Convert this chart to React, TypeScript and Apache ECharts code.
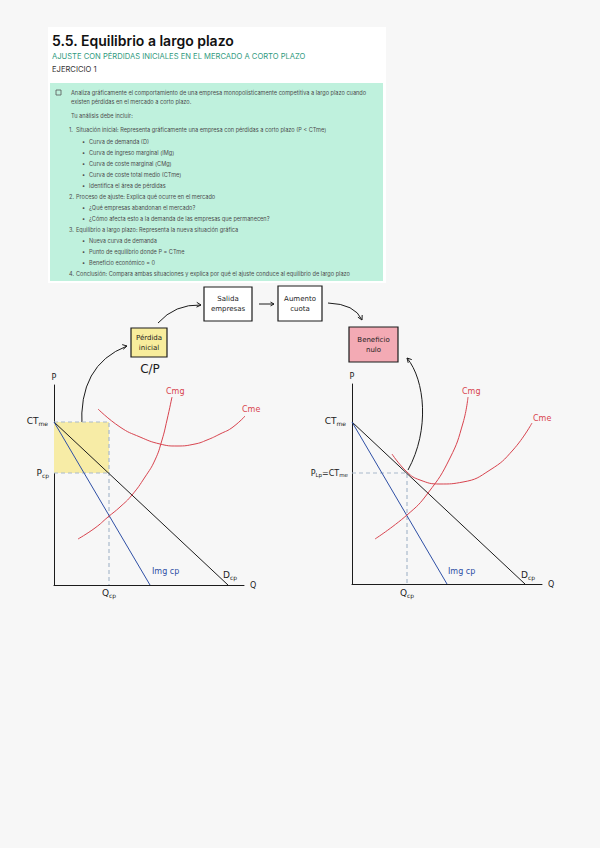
import React, { useEffect, useRef } from "react";
import * as echarts from "echarts";

// ---------- DATA ----------
const titleText = "5.5. Equilibrio a largo plazo";
const subtitleText = "AJUSTE CON PÉRDIDAS INICIALES EN EL MERCADO A CORTO PLAZO";
const exerciseText = "EJERCICIO 1";

// kind: p = paragraph, n = numbered, b = bullet
const boxLines: [string, string, string][] = [
  ["p", "", "Analiza gráficamente el comportamiento de una empresa monopolísticamente competitiva a largo plazo cuando"],
  ["p", "", "existen pérdidas en el mercado a corto plazo."],
  ["p", "", "Tu análisis debe incluir:"],
  ["n", "1.", "Situación inicial: Representa gráficamente una empresa con pérdidas a corto plazo (P < CTme)"],
  ["b", "•", "Curva de demanda (D)"],
  ["b", "•", "Curva de ingreso marginal (IMg)"],
  ["b", "•", "Curva de coste marginal (CMg)"],
  ["b", "•", "Curva de coste total medio (CTme)"],
  ["b", "•", "Identifica el área de pérdidas"],
  ["n", "2.", "Proceso de ajuste: Explica qué ocurre en el mercado"],
  ["b", "•", "¿Qué empresas abandonan el mercado?"],
  ["b", "•", "¿Cómo afecta esto a la demanda de las empresas que permanecen?"],
  ["n", "3.", "Equilibrio a largo plazo: Representa la nueva situación gráfica"],
  ["b", "•", "Nueva curva de demanda"],
  ["b", "•", "Punto de equilibrio donde P = CTme"],
  ["b", "•", "Beneficio económico = 0"],
  ["n", "4.", "Conclusión: Compara ambas situaciones y explica por qué el ajuste conduce al equilibrio de largo plazo"],
];
const boxLineY = [93, 102, 116, 130, 142, 153, 164, 175, 186, 197, 208, 219, 230, 241, 252, 263, 274];

const flowBoxes = ["Salida\nempresas", "Aumento\ncuota", "Pérdida\ninicial", "Beneficio\nnulo"];

// Left diagram (short run with losses)
const leftDemand = [[0, 8.15], [8.7, 0]];
const leftIMg = [[0, 8.15], [4.8, 0]];
const leftCMg = [[1.2, 2.3], [2.05, 2.85], [2.7, 3.4], [3.3, 3.9], [3.9, 4.5], [4.55, 5.4], [5.05, 6.25], [5.4, 7.25], [5.65, 8.25], [5.9, 9.4]];
const leftCTme = [[2.2, 8.8], [3.3, 7.9], [4.3, 7.4], [5.3, 7.05], [6.15, 6.95], [7.05, 7.05], [7.65, 7.25], [8.3, 7.55], [8.95, 7.9], [9.7, 8.6]];
const leftCTmeLevel = 8.15;
const leftPcp = 5.6;
const leftQcp = 2.75;

// Right diagram (long run, zero profit)
const rightDemand = [[0, 8.1], [8.65, 0]];
const rightIMg = [[0, 8.1], [4.75, 0]];
const rightCMg = [[1.15, 2.25], [2.75, 3.45], [3.8, 4.55], [4.9, 6.3], [5.55, 8.05], [5.8, 9.35]];
const rightCTme = [[2.0, 6.5], [2.75, 5.6], [3.4, 5.2], [4.4, 5.0], [5.55, 5.1], [6.9, 5.7], [8.05, 6.7], [9.0, 8.05]];
const rightPLp = 5.55;
const rightQLp = 2.75;

// ---------- STYLE ----------
const RED = "#d8434e";
const BLUE = "#2e4fa5";
const DASH = "#a9b9cc";
const INK = "#1c1c1c";
const HAND = "'DejaVu Sans', sans-serif";

function arrowHead(tx: number, ty: number, fx: number, fy: number, size = 5) {
  const a = Math.atan2(ty - fy, tx - fx);
  const p1 = [tx - size * Math.cos(a - 0.5), ty - size * Math.sin(a - 0.5)];
  const p2 = [tx - size * Math.cos(a + 0.5), ty - size * Math.sin(a + 0.5)];
  return {
    type: "polyline",
    shape: { points: [p1, [tx, ty], p2] },
    style: { stroke: INK, lineWidth: 1, fill: "none" },
  };
}

function sub(main: string, s: string, x: number, y: number, align: string, color = INK) {
  return {
    type: "text",
    x,
    y,
    style: {
      text: `{a|${main}}{b|${s}}`,
      textAlign: align,
      textVerticalAlign: "middle",
      rich: {
        a: { fontSize: 9, fontFamily: HAND, fill: color, color },
        b: { fontSize: 6, fontFamily: HAND, fill: color, color, padding: [4, 0, 0, 0] },
      },
    },
  };
}

function handText(text: string, x: number, y: number, color = INK, size = 8, align = "left") {
  return {
    type: "text",
    x,
    y,
    style: { text, fill: color, fontSize: size, fontFamily: HAND, textAlign: align, textVerticalAlign: "middle" },
  };
}

function boxRect(x: number, y: number, w: number, h: number, fill: string, label: string) {
  return [
    { type: "rect", shape: { x, y, width: w, height: h }, style: { fill, stroke: INK, lineWidth: 1.2 } },
    {
      type: "text",
      x: x + w / 2,
      y: y + h / 2,
      style: { text: label, fill: INK, fontSize: 7, lineHeight: 10, fontFamily: HAND, textAlign: "center", textVerticalAlign: "middle" },
    },
  ];
}

export default function App() {
  const ref = useRef<HTMLDivElement>(null);
  useEffect(() => {
    if (!ref.current) return;
    const chart = echarts.init(ref.current, undefined, { renderer: "svg" });

    const axisCommon = {
      type: "value",
      min: 0,
      axisTick: { show: false },
      axisLabel: { show: false },
      splitLine: { show: false },
      axisLine: { show: true, lineStyle: { color: INK, width: 1 } },
      nameTextStyle: { color: INK, fontSize: 8, fontFamily: HAND },
    };

    const lineS = (data: number[][], xi: number, color: string, smooth = false, extra: any = {}) => ({
      type: "line",
      data,
      xAxisIndex: xi,
      yAxisIndex: xi,
      showSymbol: false,
      symbol: "none",
      smooth,
      clip: false,
      silent: true,
      lineStyle: { color, width: 1 },
      z: 3,
      ...extra,
    });

    const dashed = { lineStyle: { color: DASH, width: 1.2, type: [4, 3] }, z: 2 };

    // graphic: header + task box
    const graphic: any[] = [
      { type: "rect", shape: { x: 48, y: 27, width: 338, height: 256 }, style: { fill: "#ffffff" }, z: -10 },
      { type: "text", x: 52, y: 40, style: { text: titleText, fill: "#111", fontSize: 14, fontWeight: 600, fontFamily: "Inter", textVerticalAlign: "middle" } },
      { type: "text", x: 52, y: 56, style: { text: subtitleText, fill: "#2f9a7e", fontSize: 7.6, fontFamily: "Inter", textVerticalAlign: "middle" } },
      { type: "text", x: 52, y: 69, style: { text: exerciseText, fill: "#333", fontSize: 7.6, fontFamily: "Inter", textVerticalAlign: "middle" } },
      { type: "rect", shape: { x: 50, y: 83, width: 333, height: 198 }, style: { fill: "#bff1dd" } },
      { type: "rect", shape: { x: 56, y: 90, width: 5, height: 5 }, style: { fill: "none", stroke: "#555", lineWidth: 0.8 } },
    ];
    boxLines.forEach(([kind, mark, text], i) => {
      const y = boxLineY[i];
      const st = { fill: "#4d4d4d", fontSize: 5.6, fontFamily: "Inter", textVerticalAlign: "middle" };
      if (kind === "p") {
        graphic.push({ type: "text", x: 71, y, style: { ...st, text } });
      } else if (kind === "n") {
        graphic.push({ type: "text", x: 69, y, style: { ...st, text: mark } });
        graphic.push({ type: "text", x: 76, y, style: { ...st, text } });
      } else {
        graphic.push({ type: "text", x: 82, y, style: { ...st, text: mark } });
        graphic.push({ type: "text", x: 89, y, style: { ...st, text } });
      }
    });

    // flow boxes
    graphic.push(...boxRect(204, 287, 48, 34, "#ffffff", flowBoxes[0]));
    graphic.push(...boxRect(278, 286, 44, 35, "#ffffff", flowBoxes[1]));
    graphic.push(...boxRect(131, 328, 36, 29, "#f8ed9c", flowBoxes[2]));
    graphic.push(...boxRect(349, 327, 49, 35, "#f3aab4", flowBoxes[3]));
    graphic.push(handText("C/P", 150, 369, INK, 12, "center"));

    // arrows
    const curve = (x1: number, y1: number, cx: number, cy: number, x2: number, y2: number) => ({
      type: "bezierCurve",
      shape: { x1, y1, cpx1: cx, cpy1: cy, x2, y2 },
      style: { stroke: INK, lineWidth: 1, fill: "none" },
    });
    graphic.push(curve(82, 428, 78, 365, 127, 346), arrowHead(127, 346, 100, 352));
    graphic.push(curve(158, 323, 175, 304, 201, 305), arrowHead(201, 305, 185, 304));
    graphic.push({ type: "line", shape: { x1: 259, y1: 304, x2: 274, y2: 304 }, style: { stroke: INK, lineWidth: 1 } }, arrowHead(274, 304, 260, 304, 4));
    graphic.push(curve(328, 303, 355, 304, 362, 320), arrowHead(362, 320, 356, 308));
    graphic.push(
      {
        type: "bezierCurve",
        shape: { x1: 408, y1: 470, cpx1: 430, cpy1: 430, cpx2: 425, cpy2: 380, x2: 407, y2: 358 },
        style: { stroke: INK, lineWidth: 1, fill: "none" },
      },
      arrowHead(407, 358, 420, 372)
    );

    // diagram labels (left)
    graphic.push(sub("CT", "me", 48, 421, "right"));
    graphic.push(sub("P", "cp", 49, 473, "right"));
    graphic.push(sub("Q", "cp", 109, 593, "center"));
    graphic.push(handText("Img cp", 152, 571, BLUE, 8));
    graphic.push(sub("D", "cp", 223, 575, "left"));
    graphic.push(handText("Cmg", 166, 391, RED, 8));
    graphic.push(handText("Cme", 242, 409, RED, 8));
    // diagram labels (right)
    graphic.push(sub("CT", "me", 346, 421, "right"));
    graphic.push({
      type: "text",
      x: 348,
      y: 473,
      style: {
        text: "{a|P}{b|Lp}{a|=CT}{b|me}",
        textAlign: "right",
        textVerticalAlign: "middle",
        rich: {
          a: { fontSize: 8, fontFamily: HAND, fill: INK },
          b: { fontSize: 5.5, fontFamily: HAND, fill: INK, padding: [4, 0, 0, 0] },
        },
      },
    });
    graphic.push(sub("Q", "cp", 407, 593, "center"));
    graphic.push(handText("Img cp", 448, 571, BLUE, 8));
    graphic.push(sub("D", "cp", 521, 575, "left"));
    graphic.push(handText("Cmg", 462, 391, RED, 8));
    graphic.push(handText("Cme", 533, 418, RED, 8));

    chart.setOption({
      animation: false,
      backgroundColor: "#f7f7f7",
      grid: [
        { left: 54, top: 385, width: 190, height: 200 },
        { left: 352, top: 384, width: 190, height: 200 },
      ],
      xAxis: [
        { ...axisCommon, gridIndex: 0, max: 9.5, name: "Q", nameGap: 6 },
        { ...axisCommon, gridIndex: 1, max: 9.5, name: "Q", nameGap: 6 },
      ],
      yAxis: [
        { ...axisCommon, gridIndex: 0, max: 10, name: "P", nameGap: 4 },
        { ...axisCommon, gridIndex: 1, max: 10, name: "P", nameGap: 4 },
      ],
      series: [
        lineS([[0, leftCTmeLevel], [leftQcp, leftCTmeLevel], [leftQcp, 0]], 0, DASH, false, {
          ...dashed,
          z: 1,
          markArea: {
            silent: true,
            itemStyle: { color: "#f7eca6", borderRadius: 6 },
            data: [[{ coord: [0, leftPcp] }, { coord: [leftQcp, leftCTmeLevel] }]],
          },
        }),
        lineS([[0, leftPcp], [leftQcp, leftPcp]], 0, DASH, false, dashed),
        lineS(leftDemand, 0, INK),
        lineS(leftIMg, 0, BLUE),
        lineS(leftCMg, 0, RED, true),
        lineS(leftCTme, 0, RED, true),
        lineS([[0, rightPLp], [rightQLp, rightPLp], [rightQLp, 0]], 1, DASH, false, dashed),
        lineS(rightDemand, 1, INK),
        lineS(rightIMg, 1, BLUE),
        lineS(rightCMg, 1, RED, true),
        lineS(rightCTme, 1, RED, true),
      ],
      graphic,
    });
    return () => chart.dispose();
  }, []);
  return <div ref={ref} style={{ position: "absolute", left: 0, top: 0, width: 600, height: 848 }} />;
}
